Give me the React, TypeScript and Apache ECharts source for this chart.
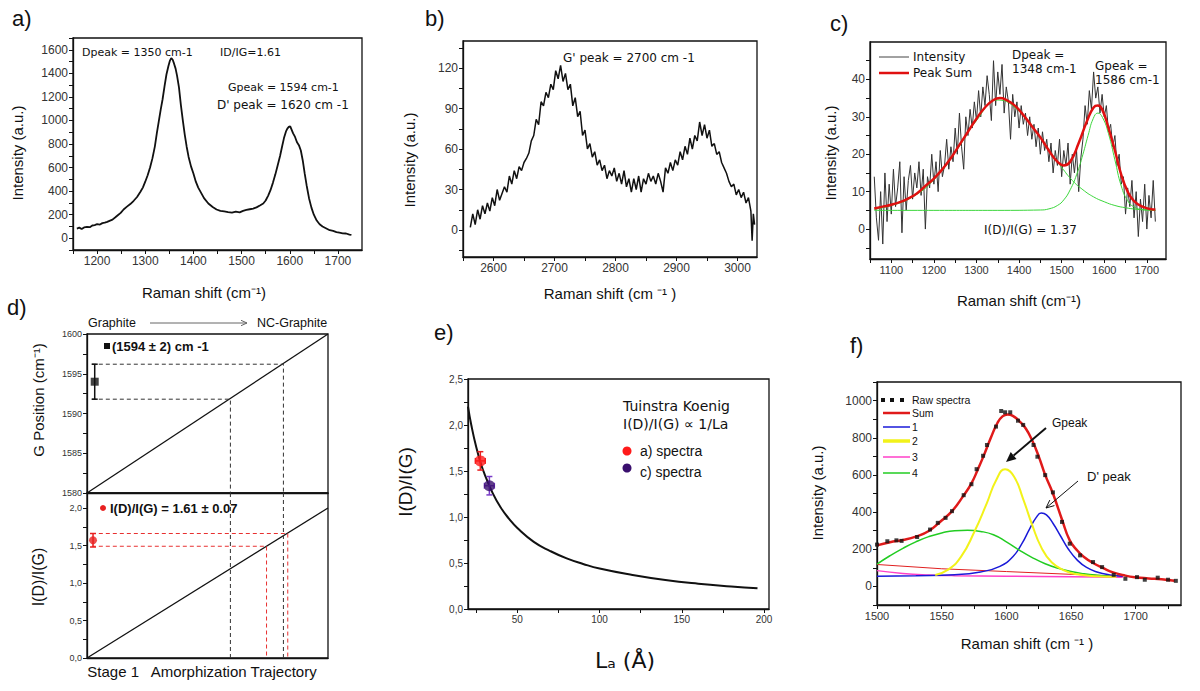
import React, { useEffect, useRef } from "react";
import * as echarts from "echarts";

// ---------------- Panel a: Raman spectrum ----------------
const aSpectrum: number[][] = [
  [1158, 82], [1163, 90], [1168, 78], [1173, 92], [1179, 96], [1185, 94], [1190, 108], [1195, 112],
  [1200, 119], [1206, 116], [1211, 128], [1216, 132], [1221, 139], [1227, 150], [1232, 158], [1238, 178],
  [1243, 195], [1249, 215], [1255, 244], [1262, 268], [1269, 290], [1276, 318], [1283, 350], [1290, 394],
  [1295, 430], [1300, 480], [1305, 535], [1310, 600], [1315, 680], [1320, 780], [1324, 890], [1328, 990],
  [1332, 1090], [1336, 1180], [1340, 1290], [1344, 1390], [1348, 1460], [1351, 1505], [1354, 1530],
  [1357, 1515], [1360, 1480], [1363, 1440], [1366, 1380], [1370, 1280], [1374, 1130], [1378, 1000],
  [1382, 880], [1386, 777], [1390, 690], [1395, 610], [1400, 550], [1405, 480], [1410, 430], [1416, 385],
  [1422, 340], [1431, 295], [1440, 265], [1448, 244], [1456, 232], [1464, 228], [1472, 222], [1480, 218],
  [1488, 226], [1496, 220], [1503, 232], [1510, 240], [1517, 246], [1524, 252], [1531, 262], [1538, 278],
  [1545, 295], [1550, 320], [1555, 360], [1560, 408], [1565, 470], [1570, 540], [1575, 620], [1580, 700],
  [1584, 777], [1588, 850], [1592, 905], [1595, 930], [1598, 945], [1601, 950], [1604, 920], [1607, 890],
  [1611, 860], [1615, 815], [1619, 790], [1623, 745], [1627, 660], [1631, 550], [1635, 450], [1640, 340],
  [1645, 260], [1650, 200], [1656, 150], [1662, 118], [1668, 100], [1675, 85], [1683, 68], [1690, 62],
  [1697, 52], [1703, 48], [1710, 42], [1717, 40], [1724, 31], [1728, 28],
];
const aXLabels = [1200, 1300, 1400, 1500, 1600, 1700];
const aXTicks = [1150, 1200, 1250, 1300, 1350, 1400, 1450, 1500, 1550, 1600, 1650, 1700];
const aYLabels = [0, 200, 400, 600, 800, 1000, 1200, 1400, 1600];
const aYTicks = [-100, 0, 100, 200, 300, 400, 500, 600, 700, 800, 900, 1000, 1100, 1200, 1300, 1400, 1500, 1600, 1700];

// ---------------- Panel b: G' band ----------------
const bSpectrum: number[][] = [
  [2562, 2], [2566, 12], [2570, 4], [2574, 15], [2578, 8], [2582, 18], [2586, 12], [2590, 20], [2594, 14],
  [2598, 24], [2602, 18], [2606, 30], [2610, 22], [2614, 27], [2618, 32], [2622, 28], [2626, 40], [2630, 34],
  [2634, 44], [2638, 38], [2642, 47], [2646, 44], [2650, 50], [2654, 53], [2658, 57], [2662, 66], [2666, 70],
  [2670, 82], [2674, 78], [2678, 95], [2682, 92], [2686, 102], [2690, 98], [2694, 108], [2698, 104],
  [2702, 118], [2706, 112], [2710, 122], [2714, 110], [2718, 116], [2722, 104], [2726, 108], [2730, 92],
  [2734, 98], [2738, 84], [2742, 88], [2746, 70], [2750, 74], [2754, 60], [2758, 64], [2762, 54], [2766, 58],
  [2770, 48], [2774, 52], [2778, 44], [2782, 48], [2786, 38], [2790, 44], [2794, 40], [2798, 46], [2802, 36],
  [2806, 42], [2810, 34], [2814, 44], [2818, 32], [2822, 38], [2826, 28], [2830, 38], [2834, 30], [2838, 40],
  [2842, 28], [2846, 38], [2850, 34], [2854, 42], [2858, 36], [2862, 40], [2866, 34], [2870, 42], [2874, 36],
  [2878, 28], [2882, 46], [2886, 42], [2890, 50], [2894, 44], [2898, 52], [2902, 48], [2906, 58], [2910, 52],
  [2914, 62], [2918, 56], [2922, 68], [2926, 60], [2930, 70], [2934, 66], [2938, 80], [2942, 70], [2946, 78],
  [2950, 68], [2954, 74], [2958, 62], [2962, 64], [2966, 56], [2970, 58], [2974, 50], [2978, 46], [2982, 42],
  [2986, 36], [2990, 32], [2994, 34], [2998, 26], [3002, 30], [3006, 24], [3010, 28], [3014, 20], [3018, 24],
  [3022, 14], [3024, -8], [3026, 12], [3028, 4],
];
const bXLabels = [2600, 2700, 2800, 2900, 3000];
const bXTicks = [2550, 2600, 2650, 2700, 2750, 2800, 2850, 2900, 2950, 3000];
const bYLabels = [0, 30, 60, 90, 120];
const bYTicks = [-15, 0, 15, 30, 45, 60, 75, 90, 105, 120, 135];

// ---------------- Panel c: fitted spectrum ----------------
const cIntensity: number[][] = [
  [1060, 14], [1065, 3], [1070, -3], [1075, 10], [1080, -4], [1085, 15], [1090, 2], [1095, 12], [1100, 4],
  [1105, 16], [1110, 6], [1115, 11], [1120, 18], [1125, -1], [1130, 14], [1135, 5], [1140, 13], [1145, 17],
  [1150, 8], [1155, 15], [1160, 11], [1165, 18], [1170, 9], [1175, 16], [1180, 0], [1185, 14], [1190, 11],
  [1195, 20], [1200, 12], [1205, 18], [1210, 10], [1215, 21], [1220, 14], [1225, 17], [1230, 24], [1235, 16],
  [1240, 22], [1245, 18], [1250, 27], [1255, 20], [1260, 31], [1265, 22], [1270, 16], [1275, 30], [1280, 25],
  [1285, 32], [1290, 27], [1295, 34], [1300, 29], [1305, 37], [1310, 30], [1315, 38], [1320, 33], [1325, 41],
  [1330, 36], [1335, 29], [1340, 45], [1345, 33], [1350, 42], [1355, 36], [1360, 44], [1365, 31], [1370, 38],
  [1375, 34], [1380, 24], [1385, 36], [1390, 30], [1395, 34], [1400, 27], [1405, 33], [1410, 28], [1415, 31],
  [1420, 25], [1425, 30], [1430, 24], [1435, 28], [1440, 22], [1445, 27], [1450, 20], [1455, 26], [1460, 21],
  [1465, 24], [1470, 18], [1475, 23], [1480, 15], [1485, 21], [1490, 17], [1495, 24], [1500, 14], [1505, 21],
  [1510, 17], [1515, 23], [1520, 12], [1525, 20], [1530, 15], [1535, 21], [1540, 10], [1545, 19], [1550, 24],
  [1555, 33], [1560, 28], [1565, 37], [1570, 32], [1575, 42], [1580, 35], [1585, 38], [1590, 31], [1595, 36],
  [1600, 30], [1605, 33], [1610, 26], [1615, 28], [1620, 22], [1625, 25], [1630, 17], [1635, 20], [1640, 12],
  [1645, 14], [1650, 4], [1655, 11], [1660, 6], [1665, 13], [1670, 3], [1675, 10], [1680, -2], [1685, 8],
  [1690, 2], [1695, 12], [1700, 0], [1705, 9], [1710, 3], [1715, 13], [1720, 2],
];
const cPeakSum: number[][] = [
  [1060, 5.5], [1080, 6], [1100, 6.5], [1120, 7.2], [1140, 8.2], [1160, 9.5], [1180, 11.5], [1200, 13.5],
  [1220, 16], [1240, 19], [1260, 22.5], [1280, 26], [1300, 29.5], [1320, 32.5], [1340, 34.5], [1355, 35],
  [1370, 34.5], [1390, 33], [1410, 30.5], [1430, 27.5], [1450, 24.5], [1470, 21], [1490, 18], [1505, 17],
  [1520, 18], [1540, 23], [1560, 29], [1575, 32.5], [1585, 33], [1595, 32], [1610, 27], [1625, 21],
  [1640, 14.5], [1655, 10], [1670, 7.5], [1690, 6], [1710, 5.3], [1720, 5.2],
];
const cDComponent: number[][] = [
  [1060, 5.3], [1100, 6.3], [1150, 8.6], [1200, 13.2], [1250, 20.5], [1300, 29], [1350, 34.5], [1400, 31.5],
  [1450, 24.5], [1480, 19.5], [1500, 16.5], [1525, 13], [1550, 10.5], [1575, 8.6], [1600, 7.3], [1625, 6.3],
  [1650, 5.7], [1675, 5.3], [1700, 5.1], [1720, 5],
];
const cGComponent: number[][] = [
  [1060, 5], [1200, 5], [1350, 5], [1450, 5.1], [1470, 5.4], [1490, 6.3], [1505, 7.8], [1520, 10.5],
  [1535, 14.5], [1550, 20], [1562, 25], [1574, 29.5], [1585, 31], [1596, 29.8], [1610, 25.5], [1625, 18.5],
  [1640, 11.5], [1655, 7.6], [1670, 5.9], [1690, 5.2], [1720, 5],
];
const cXLabels = [1100, 1200, 1300, 1400, 1500, 1600, 1700];
const cXTicks = [1050, 1100, 1150, 1200, 1250, 1300, 1350, 1400, 1450, 1500, 1550, 1600, 1650, 1700];
const cYLabels = [0, 10, 20, 30, 40];
const cYTicks = [-5, 0, 5, 10, 15, 20, 25, 30, 35, 40, 45];

// ---------------- Panel d: amorphization trajectory ----------------
const dTrajectoryG: number[][] = [[0, 1580], [1, 1600]];
const dTrajectoryRatio: number[][] = [[0, 0], [1, 2]];
const dGPoint: number[] = [0.032, 1594, 0, 2.2];
const dRatioPoint: number[] = [0.025, 1.57, 0, 0.09];
const dGuideGHigh: number[][] = [[0.02, 1596.2], [0.815, 1596.2], [0.815, 1580]];
const dGuideGLow: number[][] = [[0.02, 1591.8], [0.595, 1591.8], [0.595, 1580]];
const dGuideDownHigh: number[][] = [[0.815, 2.2], [0.815, 0]];
const dGuideDownLow: number[][] = [[0.595, 2.2], [0.595, 0]];
const dGuideRatioHigh: number[][] = [[0.02, 1.66], [0.833, 1.66], [0.833, 0]];
const dGuideRatioLow: number[][] = [[0.02, 1.49], [0.745, 1.49], [0.745, 0]];
const dTopLabels = [1580, 1585, 1590, 1595, 1600];
const dTopTicks = [1580, 1582.5, 1585, 1587.5, 1590, 1592.5, 1595, 1597.5, 1600];
const dBotLabels = [0, 0.5, 1, 1.5, 2];
const dBotTicks = [0, 0.25, 0.5, 0.75, 1, 1.25, 1.5, 1.75, 2];

// ---------------- Panel e: Tuinstra-Koenig ----------------
const eCurve: number[][] = [
  [20, 2.2], [22, 2.0], [25, 1.76], [28, 1.57], [30, 1.47], [35, 1.26], [40, 1.1], [45, 0.98], [50, 0.88],
  [60, 0.73], [70, 0.63], [80, 0.55], [90, 0.49], [100, 0.44], [120, 0.37], [140, 0.315], [160, 0.275],
  [180, 0.245], [196, 0.225],
];
const eSpectraA: number[] = [27.5, 1.61, 3, 0.1];
const eSpectraC: number[] = [33, 1.34, 3, 0.1];
const eXLabels = [50, 100, 150, 200];
const eXTicks = [25, 50, 75, 100, 125, 150, 175, 200];
const eYLabels = [0, 0.5, 1, 1.5, 2, 2.5];
const eYTicks = [0, 0.25, 0.5, 0.75, 1, 1.25, 1.5, 1.75, 2, 2.25, 2.5];

// ---------------- Panel f: G band fit ----------------
const fRaw: number[][] = [
  [1500, 225], [1508, 243], [1515, 248], [1519, 245], [1531, 266], [1541, 306], [1547, 342], [1553, 369],
  [1558, 405], [1567, 491], [1573, 550], [1577, 631], [1582, 703], [1585, 761], [1592, 860], [1596, 944],
  [1599, 937], [1603, 937], [1609, 892], [1613, 869], [1621, 761], [1624, 698], [1630, 599], [1636, 506],
  [1643, 347], [1649, 230], [1657, 167], [1667, 131], [1674, 104], [1683, 62], [1692, 41], [1701, 50],
  [1707, 36], [1717, 47], [1725, 36], [1731, 30],
];
const fSum: number[][] = [
  [1500, 221], [1510, 238], [1520, 250], [1530, 268], [1540, 298], [1550, 355], [1558, 405], [1567, 490],
  [1573, 555], [1578, 630], [1583, 712], [1588, 800], [1593, 878], [1597, 915], [1601, 925], [1605, 918],
  [1610, 890], [1615, 850], [1620, 785], [1625, 700], [1630, 600], [1636, 500], [1643, 360], [1649, 248],
  [1655, 192], [1660, 158], [1667, 126], [1675, 98], [1683, 74], [1692, 58], [1700, 49], [1710, 43],
  [1720, 38], [1730, 30],
];
const fPeak1: number[][] = [
  [1500, 55], [1530, 58], [1560, 63], [1580, 78], [1595, 108], [1605, 160], [1612, 230], [1618, 310],
  [1623, 370], [1627, 395], [1631, 385], [1636, 340], [1642, 270], [1648, 200], [1655, 140], [1662, 102],
  [1670, 78], [1680, 62], [1690, 55],
];
const fPeak2: number[][] = [
  [1545, 62], [1555, 90], [1565, 160], [1575, 290], [1585, 450], [1592, 570], [1599, 630], [1606, 590],
  [1613, 470], [1620, 330], [1627, 210], [1635, 130], [1645, 85], [1655, 65], [1670, 55], [1685, 52],
];
const fPeak3: number[][] = [[1500, 85], [1520, 70], [1540, 62], [1560, 58], [1600, 55], [1650, 52], [1690, 50]];
const fPeak4: number[][] = [
  [1500, 120], [1510, 165], [1520, 205], [1530, 240], [1540, 268], [1550, 288], [1560, 300], [1570, 302],
  [1580, 296], [1590, 278], [1600, 240], [1610, 195], [1620, 155], [1630, 122], [1640, 98], [1650, 80],
  [1660, 68], [1670, 60], [1680, 55],
];
const fBaseline: number[][] = [[1500, 118], [1550, 95], [1600, 80], [1650, 65], [1690, 55]];
const fXLabels = [1500, 1550, 1600, 1650, 1700];
const fXTicks = [1500, 1525, 1550, 1575, 1600, 1625, 1650, 1675, 1700, 1725];
const fYLabels = [0, 200, 400, 600, 800, 1000];
const fYTicks = [-100, 0, 100, 200, 300, 400, 500, 600, 700, 800, 900, 1000, 1100];

const SANS = "'Liberation Sans', Arial, sans-serif";
const VERD = "'DejaVu Sans', Verdana, sans-serif";
const plain = (v: number) => String(v);
const comma = (v: number) => v.toFixed(1).replace(".", ",");

function axis(gridIndex: number, min: number, max: number, labels: number[], ticks: number[], fontSize: number, fmt: (v: number) => string = plain) {
  const a: any = {
    type: "value",
    gridIndex,
    min,
    max,
    axisLine: { show: true, onZero: false, lineStyle: { color: "#111", width: 1.3 } },
    axisTick: { show: ticks.length > 0, inside: false, length: 4, lineStyle: { color: "#111", width: 1 } },
    axisLabel: { show: labels.length > 0, fontSize, color: "#333", fontFamily: SANS, margin: 5, formatter: fmt },
    splitLine: { show: false },
  };
  if (ticks.length) a.axisTick.customValues = ticks;
  if (labels.length) a.axisLabel.customValues = labels;
  return a;
}

function line(idx: number, data: number[][], color: string, width: number, extra: any = {}) {
  return {
    type: "line",
    xAxisIndex: idx,
    yAxisIndex: idx,
    data,
    showSymbol: false,
    symbol: "none",
    lineStyle: { color, width, ...(extra.lineStyle || {}) },
    smooth: extra.smooth || false,
    z: extra.z || 2,
    silent: true,
  };
}

function errorBars(idx: number, point: number[], color: string, cap: number) {
  return {
    type: "custom",
    xAxisIndex: idx,
    yAxisIndex: idx,
    data: [point],
    encode: { x: 0, y: 1 },
    z: 3,
    silent: true,
    renderItem: (_p: any, api: any) => {
      const x = api.value(0), y = api.value(1), ex = api.value(2), ey = api.value(3);
      const segs: number[][] = [];
      const lo = api.coord([x, y - ey]);
      const hi = api.coord([x, y + ey]);
      segs.push([lo[0], lo[1], hi[0], hi[1]]);
      segs.push([lo[0] - cap, lo[1], lo[0] + cap, lo[1]]);
      segs.push([hi[0] - cap, hi[1], hi[0] + cap, hi[1]]);
      if (ex > 0) {
        const l = api.coord([x - ex, y]);
        const r = api.coord([x + ex, y]);
        segs.push([l[0], l[1], r[0], r[1]]);
        segs.push([l[0], l[1] - cap, l[0], l[1] + cap]);
        segs.push([r[0], r[1] - cap, r[0], r[1] + cap]);
      }
      return {
        type: "group",
        children: segs.map((s) => ({
          type: "line",
          shape: { x1: s[0], y1: s[1], x2: s[2], y2: s[3] },
          style: { stroke: color, lineWidth: 1.5 },
        })),
      };
    },
  };
}

function txt(x: number, y: number, text: string, size: number, opt: any = {}) {
  return {
    type: "text",
    x,
    y,
    rotation: opt.rot || 0,
    z: 10,
    silent: true,
    style: {
      text,
      fill: opt.color || "#111",
      fontSize: size,
      fontFamily: opt.font || SANS,
      fontWeight: opt.bold ? "bold" : "normal",
      align: opt.align || "left",
      verticalAlign: "middle",
    },
  };
}

function arrow(x1: number, y1: number, x2: number, y2: number, color: string, width: number, head: number, filled: boolean) {
  const dx = x2 - x1, dy = y2 - y1;
  const len = Math.hypot(dx, dy);
  const ux = dx / len, uy = dy / len;
  const bx = x2 - head * ux, by = y2 - head * uy;
  const nx = -uy, ny = ux;
  const hw = head * 0.45;
  const p1 = [bx + hw * nx, by + hw * ny];
  const p2 = [bx - hw * nx, by - hw * ny];
  const els: any[] = [
    { type: "line", silent: true, z: 10, shape: { x1, y1, x2: filled ? bx : x2, y2: filled ? by : y2 }, style: { stroke: color, lineWidth: width } },
  ];
  if (filled) {
    els.push({ type: "polygon", silent: true, z: 10, shape: { points: [[x2, y2], p1, p2] }, style: { fill: color } });
  } else {
    els.push({ type: "polyline", silent: true, z: 10, shape: { points: [p1, [x2, y2], p2] }, style: { stroke: color, lineWidth: width, fill: null } });
  }
  return els;
}

function buildOption(): any {
  const gridBox = { show: true, borderColor: "#111", borderWidth: 1.3, backgroundColor: "transparent" };
  const grid = [
    { left: 73, top: 38, width: 289, height: 212, ...gridBox },
    { left: 463, top: 41, width: 294, height: 216, ...gridBox },
    { left: 870, top: 42, width: 296, height: 217, ...gridBox },
    { left: 87, top: 334, width: 241, height: 159, ...gridBox },
    { left: 87, top: 493, width: 241, height: 165, ...gridBox },
    { left: 468, top: 379, width: 301, height: 230, ...gridBox },
    { left: 877, top: 382, width: 304, height: 223, ...gridBox },
  ];
  const xAxis = [
    axis(0, 1150, 1750, aXLabels, aXTicks, 12),
    axis(1, 2550, 3032, bXLabels, bXTicks, 12),
    axis(2, 1050, 1745, cXLabels, cXTicks, 11),
    axis(3, 0, 1, [], [], 9),
    axis(4, 0, 1, [], [], 9),
    axis(5, 20, 203, eXLabels, eXTicks, 10),
    axis(6, 1500, 1735, fXLabels, fXTicks, 11),
  ];
  const yAxis = [
    axis(0, -100, 1700, aYLabels, aYTicks, 12),
    axis(1, -20, 140, bYLabels, bYTicks, 12),
    axis(2, -8, 50, cYLabels, cYTicks, 12),
    axis(3, 1580, 1600, dTopLabels, dTopTicks, 9),
    axis(4, 0, 2.2, dBotLabels, dBotTicks, 9, comma),
    axis(5, 0, 2.5, eYLabels, eYTicks, 10, comma),
    axis(6, -100, 1100, fYLabels, fYTicks, 12),
  ];

  const dash = { type: [4, 3] };
  const series: any[] = [
    line(0, aSpectrum, "#111", 1.8),
    line(1, bSpectrum, "#111", 1.5),
    line(2, cIntensity, "#333", 1),
    line(2, cDComponent, "#3cd63c", 1, { smooth: true }),
    line(2, cGComponent, "#3cd63c", 1, { smooth: true }),
    line(2, cPeakSum, "#e01010", 2.5, { smooth: true, z: 4 }),
    line(3, dTrajectoryG, "#111", 1.3),
    line(4, dTrajectoryRatio, "#111", 1.3),
    line(3, dGuideGHigh, "#333", 1, { lineStyle: dash }),
    line(3, dGuideGLow, "#333", 1, { lineStyle: dash }),
    line(4, dGuideDownHigh, "#333", 1, { lineStyle: dash }),
    line(4, dGuideDownLow, "#333", 1, { lineStyle: dash }),
    line(4, dGuideRatioHigh, "#e83030", 1, { lineStyle: dash }),
    line(4, dGuideRatioLow, "#e83030", 1, { lineStyle: dash }),
    errorBars(3, dGPoint, "#111", 3),
    errorBars(4, dRatioPoint, "#e82020", 3),
    { type: "scatter", xAxisIndex: 3, yAxisIndex: 3, data: [[dGPoint[0], dGPoint[1]]], symbol: "rect", symbolSize: 8, itemStyle: { color: "#111" }, z: 4, silent: true },
    { type: "scatter", xAxisIndex: 4, yAxisIndex: 4, data: [[dRatioPoint[0], dRatioPoint[1]]], symbol: "circle", symbolSize: 8, itemStyle: { color: "#e82020" }, z: 4, silent: true },
    line(5, eCurve, "#111", 2, { smooth: true }),
    errorBars(5, eSpectraA, "#e82020", 3),
    errorBars(5, eSpectraC, "#7a3cc8", 3),
    { type: "scatter", xAxisIndex: 5, yAxisIndex: 5, data: [[eSpectraA[0], eSpectraA[1]]], symbolSize: 11, itemStyle: { color: "#ff1a1a" }, z: 4, silent: true },
    { type: "scatter", xAxisIndex: 5, yAxisIndex: 5, data: [[eSpectraC[0], eSpectraC[1]]], symbolSize: 11, itemStyle: { color: "#3a0f6e" }, z: 4, silent: true },
    line(6, fBaseline, "#e02020", 1),
    line(6, fPeak3, "#ff40c8", 1.5, { smooth: true }),
    line(6, fPeak1, "#1a1ad8", 1.5, { smooth: true }),
    line(6, fPeak4, "#22cc22", 1.5, { smooth: true }),
    line(6, fPeak2, "#f2f21a", 2, { smooth: true }),
    line(6, fSum, "#e01a1a", 2.5, { smooth: true, z: 4 }),
    { type: "scatter", xAxisIndex: 6, yAxisIndex: 6, data: fRaw, symbol: "rect", symbolSize: 4, itemStyle: { color: "#111" }, z: 5, silent: true },
  ];

  const graphic: any[] = [
    // panel labels
    txt(12, 18, "a)", 22),
    txt(425, 18, "b)", 22),
    txt(830, 23, "c)", 22),
    txt(7, 307, "d)", 22),
    txt(434, 332, "e)", 22),
    txt(850, 345, "f)", 22),
    // a
    txt(17, 153, "Intensity (a.u.)", 15, { rot: Math.PI / 2, align: "center" }),
    txt(204, 292, "Raman shift (cm⁻¹)", 15, { align: "center" }),
    txt(82, 52, "Dpeak = 1350 cm-1", 11, { font: VERD }),
    txt(220, 52, "ID/IG=1.61", 11, { font: VERD }),
    txt(228, 87, "Gpeak = 1594 cm-1", 11, { font: VERD }),
    txt(217, 105, "D' peak = 1620 cm -1", 12, { font: VERD }),
    // b
    txt(409, 160, "Intensity (a.u.)", 15, { rot: Math.PI / 2, align: "center" }),
    txt(610, 293, "Raman shift (cm ⁻¹ )", 15, { align: "center" }),
    txt(563, 58, "G' peak = 2700 cm -1", 12, { font: VERD }),
    // c
    txt(830, 153, "Intensity (a.u.)", 15, { rot: Math.PI / 2, align: "center" }),
    txt(1019, 300, "Raman shift (cm⁻¹)", 15, { align: "center" }),
    { type: "line", silent: true, z: 10, shape: { x1: 879, y1: 57, x2: 909, y2: 57 }, style: { stroke: "#444", lineWidth: 1 } },
    { type: "line", silent: true, z: 10, shape: { x1: 879, y1: 73, x2: 909, y2: 73 }, style: { stroke: "#e01010", lineWidth: 2.5 } },
    txt(913, 57, "Intensity", 12, { font: VERD }),
    txt(913, 73, "Peak Sum", 12, { font: VERD }),
    txt(1012, 55, "Dpeak =", 12, { font: VERD }),
    txt(1012, 69, "1348 cm-1", 12, { font: VERD }),
    txt(1095, 66, "Gpeak =", 12, { font: VERD }),
    txt(1095, 80, "1586 cm-1", 12, { font: VERD }),
    txt(984, 230, "I(D)/I(G) = 1.37", 12, { font: VERD }),
    // d
    txt(88, 323, "Graphite", 12.5),
    txt(257, 323, "NC-Graphite", 12.5),
    ...arrow(150, 323, 247, 323, "#666", 1, 6, false),
    { type: "rect", silent: true, z: 10, shape: { x: 104, y: 343, width: 6, height: 6 }, style: { fill: "#111" } },
    txt(112, 346, "(1594 ± 2) cm -1", 13, { bold: true }),
    { type: "circle", silent: true, z: 10, shape: { cx: 103, cy: 508, r: 3 }, style: { fill: "#e82020" } },
    txt(110, 508, "I(D)/I(G) = 1.61 ± 0.07", 13, { bold: true }),
    txt(38, 400, "G Position (cm⁻¹)", 15, { rot: Math.PI / 2, align: "center" }),
    txt(38, 577, "I(D)/I(G)", 16, { rot: Math.PI / 2, align: "center" }),
    txt(202, 671, "Stage 1   Amorphization Trajectory", 15, { align: "center" }),
    // e
    txt(405, 482, "I(D)/I(G)", 19, { rot: Math.PI / 2, align: "center" }),
    txt(625, 660, "Lₐ (Å)", 22, { align: "center", font: VERD }),
    txt(623, 406, "Tuinstra Koenig", 14, { font: VERD }),
    txt(623, 424, "I(D)/I(G) ∝ 1/La", 14, { font: VERD }),
    { type: "circle", silent: true, z: 10, shape: { cx: 627, cy: 451, r: 4.5 }, style: { fill: "#ff1a1a" } },
    { type: "circle", silent: true, z: 10, shape: { cx: 627, cy: 468, r: 4.5 }, style: { fill: "#3a0f6e" } },
    txt(640, 451, "a) spectra", 14),
    txt(640, 472, "c) spectra", 14),
    // f
    txt(817, 493, "Intensity (a.u.)", 15, { rot: Math.PI / 2, align: "center" }),
    txt(1027, 643, "Raman shift (cm ⁻¹ )", 15, { align: "center" }),
    { type: "rect", silent: true, z: 10, shape: { x: 881, y: 398, width: 4, height: 4 }, style: { fill: "#111" } },
    { type: "rect", silent: true, z: 10, shape: { x: 890, y: 398, width: 4, height: 4 }, style: { fill: "#111" } },
    { type: "rect", silent: true, z: 10, shape: { x: 900, y: 398, width: 4, height: 4 }, style: { fill: "#111" } },
    { type: "line", silent: true, z: 10, shape: { x1: 883, y1: 413, x2: 910, y2: 413 }, style: { stroke: "#e01a1a", lineWidth: 2.5 } },
    { type: "line", silent: true, z: 10, shape: { x1: 883, y1: 427, x2: 910, y2: 427 }, style: { stroke: "#1a1ad8", lineWidth: 1.5 } },
    { type: "line", silent: true, z: 10, shape: { x1: 883, y1: 441, x2: 910, y2: 441 }, style: { stroke: "#f2f21a", lineWidth: 3.5 } },
    { type: "line", silent: true, z: 10, shape: { x1: 883, y1: 457, x2: 910, y2: 457 }, style: { stroke: "#ff40c8", lineWidth: 1.5 } },
    { type: "line", silent: true, z: 10, shape: { x1: 883, y1: 473, x2: 910, y2: 473 }, style: { stroke: "#22cc22", lineWidth: 1.5 } },
    txt(912, 400, "Raw spectra", 10.5),
    txt(912, 413, "Sum", 10.5),
    txt(912, 427, "1", 10.5),
    txt(912, 441, "2", 10.5),
    txt(912, 457, "3", 10.5),
    txt(912, 473, "4", 10.5),
    txt(1052, 423, "Gpeak", 12),
    txt(1087, 476, "D' peak", 13),
    ...arrow(1046, 428, 1006, 462, "#111", 2, 10, true),
    ...arrow(1078, 481, 1046, 508, "#111", 1, 8, false),
  ];

  return {
    animation: false,
    backgroundColor: "#ffffff",
    grid,
    xAxis,
    yAxis,
    series,
    graphic,
  };
}

export default function App() {
  const ref = useRef<HTMLDivElement>(null);
  useEffect(() => {
    if (!ref.current) return;
    const chart = echarts.init(ref.current, undefined, { renderer: "svg" });
    chart.setOption(buildOption());
    return () => chart.dispose();
  }, []);
  return (
    <div
      ref={ref}
      style={{ position: "fixed", left: 0, top: 0, width: 1200, height: 691, background: "#fff" }}
    />
  );
}
